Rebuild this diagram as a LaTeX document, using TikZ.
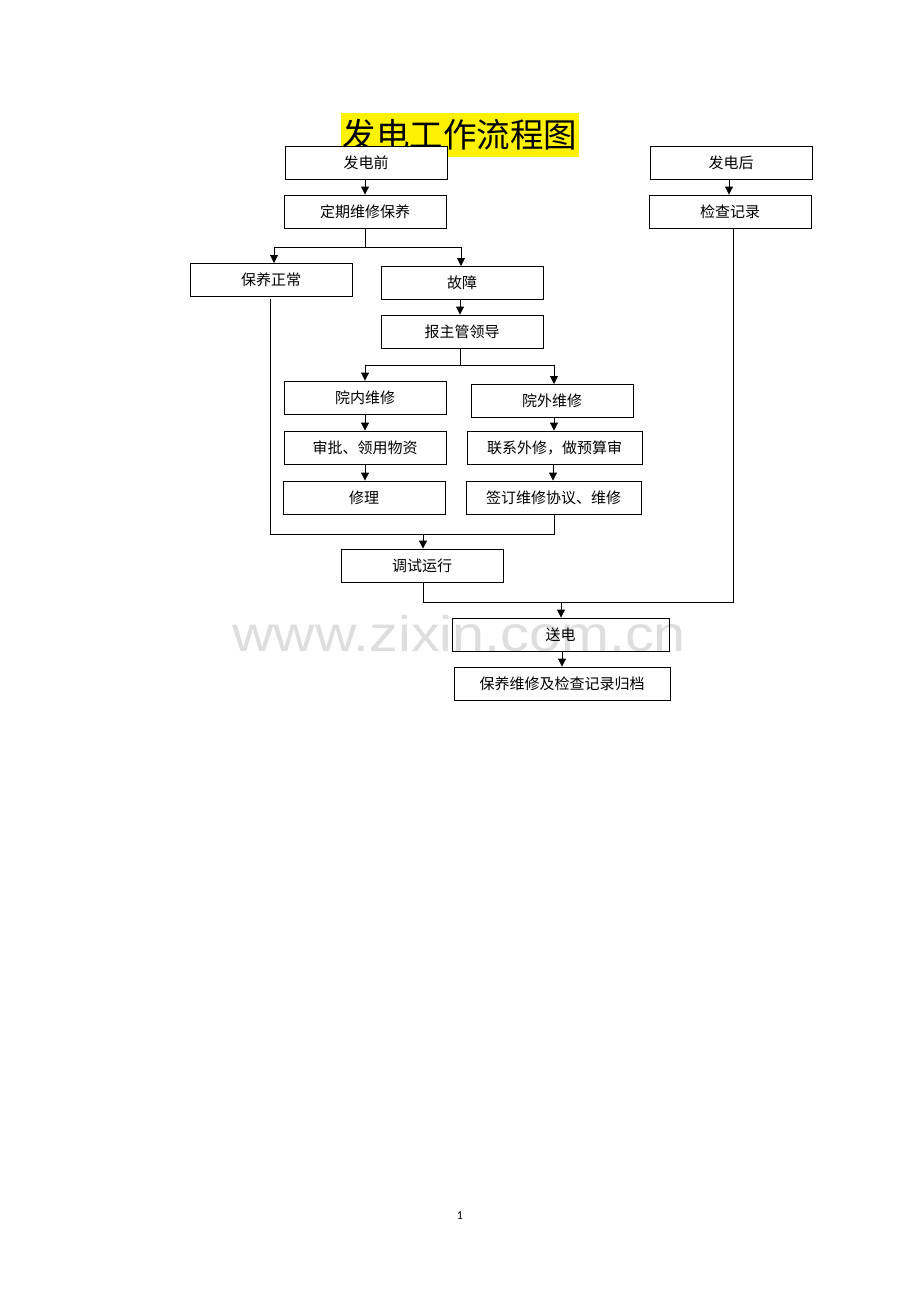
\documentclass[tikz,border=0pt]{standalone}
\usepackage{fontspec}
\newfontfamily\cjk{Noto Sans CJK SC}
\newfontfamily\wmfont{Liberation Sans}
\newfontfamily\pnfont{Carlito}
\usetikzlibrary{arrows.meta}
\begin{document}
\begin{tikzpicture}[x=1pt,y=-1pt,
  box/.style={draw,fill=white,line width=0.9pt,minimum width=162pt,minimum height=33pt,inner sep=0pt,font=\cjk\fontsize{15}{15}\selectfont},
  arr/.style={-{Triangle[length=8pt,width=8pt]},line width=0.9pt},
  ln/.style={line width=0.9pt}]
\useasboundingbox (0,0) rectangle (920,1302);
% title
\node[fill=yellow,inner sep=0pt,minimum width=238pt,minimum height=44pt,font=\cjk\fontsize{33.5}{33.5}\selectfont] (title) at (460,135) {\raisebox{-5pt}{发电工作流程图}};
% boxes
\node[box] (fdq) at (366,162.5) {发电前};
\node[box] (dq) at (365,211.5) {定期维修保养};
\node[box] (bycc) at (271,279.5) {保养正常};
\node[box] (gz) at (462,282.5) {故障};
\node[box] (bz) at (462,331.5) {报主管领导};
\node[box] (ynwx) at (365,397.5) {院内维修};
\node[box] (ywwx) at (552,400.5) {院外维修};
\node[box] (sp) at (365,447.5) {审批、领用物资};
\node[box,minimum width=175pt] (lx) at (554.5,447.5) {联系外修，做预算审};
\node[box] (xl) at (364,497.5) {修理};
\node[box,minimum width=175pt] (qd) at (553.5,497.5) {签订维修协议、维修};
\node[box] (ts) at (422,565.5) {调试运行};
\node[box,minimum width=217pt] (sd) at (560.5,634.5) {送电};
\node[box,minimum width=216pt] (gd) at (562,683.5) {保养维修及检查记录归档};
\node[box] (fdh) at (731,162.5) {发电后};
\node[box] (jc) at (730,211.5) {检查记录};
% junctions
\coordinate (j1) at (365,247);
\coordinate (j2) at (460,365);
\coordinate (j3) at (423,534);
\coordinate (j4) at (561,602);
% connectors
\draw[arr] (fdq.south -| 365,0) -- (dq.north -| 365,0);
\draw[ln] (dq.south -| j1) -- (j1);
\draw[arr] (j1) -| (274,263);
\draw[arr] (j1) -| (461,266);
\draw[arr] (gz.south -| 460,0) -- (bz.north -| 460,0);
\draw[ln] (bz.south -| j2) -- (j2);
\draw[arr] (j2) -| (ynwx.north);
\draw[arr] (j2) -| (554,384);
\draw[arr] (ynwx.south) -- (sp.north -| ynwx.south);
\draw[arr] (sp.south -| 365,0) -- (xl.north -| 365,0);
\draw[arr] (ywwx.south -| 554,0) -- (lx.north -| 554,0);
\draw[arr] (lx.south -| 553,0) -- (qd.north -| 553,0);
\draw[ln] (270,299) |- (j3);
\draw[ln] (qd.south -| 554,0) |- (j3);
\draw[arr] (j3) -- (ts.north -| j3);
\draw[ln] (ts.south -| j3) |- (j4);
\draw[ln] (jc.south -| 733,0) |- (j4);
\draw[arr] (j4) -- (sd.north -| j4);
\draw[arr] (fdh.south -| 729,0) -- (jc.north -| 729,0);
\draw[arr] (sd.south -| 562,0) -- (gd.north -| 562,0);
% watermark
\node[text=black,text opacity=0.13,inner sep=0pt,font=\wmfont\fontsize{50}{50}\selectfont] (wm) at (459,634) {\scalebox{1.15}[1]{www.zixin.com.cn}};
% page number
\node[font=\pnfont\fontsize{12}{12}\selectfont] (pn) at (460,1216) {1};
\end{tikzpicture}
\end{document}
